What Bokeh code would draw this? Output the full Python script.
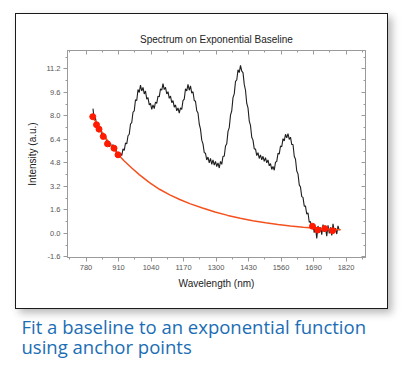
from bokeh.plotting import figure
from bokeh.models import (Range1d, LinearAxis, FixedTicker, PrintfTickFormatter,
                          Title, InlineStyleSheet)
from bokeh.embed import file_html
from bokeh.resources import INLINE

# ---------------- data ----------------
title_text = "Spectrum on Exponential Baseline"
x_label = "Wavelength (nm)"
y_label = "Intensity (a.u.)"
caption_lines = ["Fit a baseline to an exponential function", "using anchor points"]

x_ticks = [780, 910, 1040, 1170, 1300, 1430, 1560, 1690, 1820]
x_minor = [715, 845, 975, 1105, 1235, 1365, 1495, 1625, 1755, 1885]
y_ticks = [-1.6, 0.0, 1.6, 3.2, 4.8, 6.4, 8.0, 9.6, 11.2]
y_minor = [-0.8, 0.8, 2.4, 4.0, 5.6, 7.2, 8.8, 10.4, 12.0]

wavelength = list(range(808, 1798, 5))
intensity = [
    8.5, 7.7, 7.85, 7.3, 7.4, 7.0, 7.15, 6.7, 6.85, 6.5,
    6.6, 6.2, 6.3, 5.9, 6.15, 5.8, 6.05, 5.7, 5.9, 5.45,
    5.5, 5.2, 5.45, 5.3, 5.75, 5.65, 6.15, 6.1, 6.65, 6.75,
    7.45, 7.55, 8.25, 8.35, 9.1, 9.05, 9.8, 9.6, 10.1, 9.7,
    9.95, 9.5, 9.7, 9.15, 9.25, 8.75, 8.85, 8.45, 8.75, 8.5,
    8.95, 8.85, 9.35, 9.3, 9.85, 9.75, 10.2, 9.8, 9.95, 9.5,
    9.65, 9.2, 9.35, 8.9, 9.05, 8.6, 8.75, 8.35, 8.55, 8.2,
    8.55, 8.45, 9.05, 9.15, 9.85, 9.7, 10.15, 9.75, 10.05, 9.55,
    9.65, 9.05, 9.0, 8.35, 8.2, 7.45, 7.1, 6.35, 6.1, 5.5,
    5.45, 5.0, 5.2, 4.8, 5.1, 4.7, 5.0, 4.65, 4.9, 4.55,
    4.8, 4.45, 4.9, 4.7, 5.25, 5.25, 5.95, 6.1, 6.95, 7.2,
    8.05, 8.35, 9.25, 9.5, 10.35, 10.45, 11.15, 10.95, 11.45, 11.05,
    10.95, 10.15, 9.75, 8.85, 8.55, 7.65, 7.35, 6.55, 6.35, 5.75,
    5.75, 5.3, 5.5, 5.1, 5.35, 5.0, 5.25, 4.9, 5.15, 4.8,
    5.0, 4.6, 4.75, 4.35, 4.55, 4.3, 4.85, 4.9, 5.45, 5.4,
    5.95, 5.9, 6.45, 6.3, 6.75, 6.5, 6.8, 6.4, 6.55, 6.05,
    6.05, 5.25, 5.05, 4.25, 4.05, 3.3, 3.15, 2.5, 2.45, 1.85,
    1.85, 1.3, 1.4, 0.75, 0.8, 0.3, 0.55, 0.05, 0.45, -0.35,
    0.5, 0.05, 0.4, -0.1, 0.6, 0.1, 0.35, -0.2, 0.55, 0.0,
    0.4, -0.15, 0.65, 0.1, 0.35, -0.05, 0.5, 0.2,
]

baseline_x = [807, 831, 851, 871, 891, 907, 932, 963, 993, 1034, 1074, 1115, 1155,
              1195, 1246, 1296, 1347, 1397, 1447, 1498, 1548, 1598, 1649, 1699, 1749, 1799]
baseline_y = [7.95, 7.25, 6.7, 6.2, 5.75, 5.4, 4.95, 4.45, 4.0, 3.45, 3.0, 2.62, 2.3,
              2.02, 1.72, 1.45, 1.22, 1.02, 0.86, 0.72, 0.6, 0.5, 0.42, 0.35, 0.29, 0.24]

anchor_x = [807, 822, 832, 849, 866, 892, 908, 1686, 1707, 1735, 1766]
anchor_y = [7.95, 7.4, 7.1, 6.6, 6.1, 5.8, 5.35, 0.48, 0.22, 0.32, 0.18]

# ---------------- styles ----------------
AXIS_GRAY = "#9a9a9a"
LABEL_FONT = "Liberation Sans"
CAPTION_FONT = "Open Sans"
CAPTION_BLUE = "#1b6db4"

panel_css = InlineStyleSheet(css="""
:host::after {
  content: "";
  position: absolute;
  left: 15px; top: 13px; width: 371px; height: 294px;
  border: 1px solid #1a1a1a;
  box-shadow: 4px 4px 8px rgba(0, 0, 0, 0.28);
  pointer-events: none;
  z-index: 10;
}
""")

p = figure(width=404, height=379, x_range=Range1d(706, 1898), y_range=Range1d(-1.65, 12.46),
           toolbar_location=None, output_backend="svg",
           min_border_left=67, min_border_right=39, min_border_top=50, min_border_bottom=120)
p.stylesheets = [panel_css]
p.background_fill_color = "white"
p.border_fill_color = "white"
p.outline_line_color = AXIS_GRAY
p.grid.visible = False

p.title.text = title_text
p.title.align = "center"
p.title.text_font = LABEL_FONT
p.title.text_font_size = "10px"
p.title.text_font_style = "normal"
p.title.text_color = "#222222"
p.title.standoff = 12

xt = FixedTicker(ticks=x_ticks, minor_ticks=x_minor)
yt = FixedTicker(ticks=y_ticks, minor_ticks=y_minor)

def style_axis(ax, inward):
    ax.axis_line_color = AXIS_GRAY
    ax.major_tick_line_color = AXIS_GRAY
    ax.minor_tick_line_color = AXIS_GRAY
    ax.major_label_text_font = LABEL_FONT
    if inward:
        ax.major_tick_in, ax.major_tick_out = 4, 0
        ax.minor_tick_in, ax.minor_tick_out = 2, 0
        ax.major_label_text_color = None
        ax.major_label_text_font_size = "1px"
        ax.major_label_standoff = 0
    else:
        ax.major_tick_in, ax.major_tick_out = 0, 4
        ax.minor_tick_in, ax.minor_tick_out = 0, 2
        ax.major_label_text_font_size = "7.5px"
        ax.major_label_text_color = "#555555"
        ax.major_label_standoff = 3
        ax.axis_label_text_font = LABEL_FONT
        ax.axis_label_text_font_size = "10px"
        ax.axis_label_text_font_style = "normal"
        ax.axis_label_text_color = "#222222"
        ax.axis_label_standoff = 5

xa = p.xaxis[0]
xa.ticker = xt
xa.axis_label = x_label
style_axis(xa, False)

ya = p.yaxis[0]
ya.ticker = yt
ya.formatter = PrintfTickFormatter(format="%.1f")
ya.axis_label = y_label
style_axis(ya, False)

top = LinearAxis(ticker=xt)
style_axis(top, True)
p.add_layout(top, "above")
right = LinearAxis(ticker=yt)
style_axis(right, True)
p.add_layout(right, "right")

p.line(wavelength, intensity, line_color="#1e1e1e", line_width=1.1)
p.line(baseline_x, baseline_y, line_color="#f4511e", line_width=1.5)
p.scatter(anchor_x, anchor_y, size=6, fill_color="#ff1a00", line_color="#ff1a00")

# caption under the framed panel (two lines in one title)
p.add_layout(Title(text="\n".join(caption_lines), align="left", offset=-46, standoff=41,
                   text_font=CAPTION_FONT, text_font_size="18.5px", text_line_height=0.8,
                   text_font_style="normal", text_color=CAPTION_BLUE), "below")

open("out.html", "w").write(file_html(p, INLINE))
